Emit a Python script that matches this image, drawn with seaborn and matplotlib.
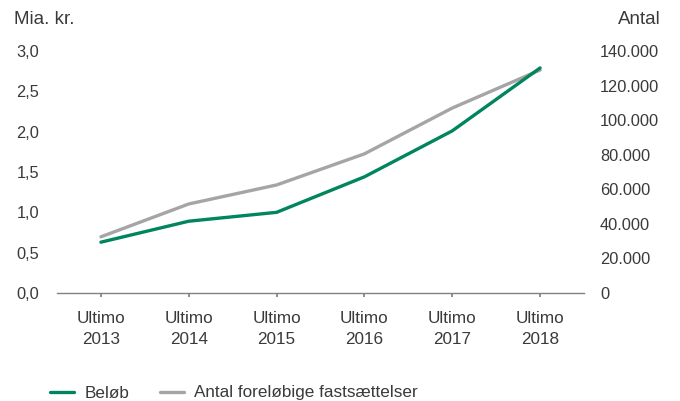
import numpy as np
import pandas as pd
import matplotlib
matplotlib.use("Agg")
import matplotlib.pyplot as plt
import seaborn as sns
from matplotlib.ticker import FuncFormatter

# data
years = ["Ultimo\n2013", "Ultimo\n2014", "Ultimo\n2015", "Ultimo\n2016", "Ultimo\n2017", "Ultimo\n2018"]
beloeb = [0.63, 0.89, 1.00, 1.44, 2.01, 2.79]          # mia. kr.
antal = [32500, 51500, 62500, 80500, 107000, 129000]  # antal fastsaettelser

green = "#00855F"
grey = "#A5A5A5"
txt = "#3A3A3A"

sns.set_theme(style="white")
plt.rcParams['font.family'] = ['Liberation Sans', 'DejaVu Sans']
plt.rcParams['text.color'] = txt

df = pd.DataFrame({"pos": np.arange(len(years)), "beloeb": beloeb, "antal": antal})

fig = plt.figure(figsize=(6.8, 4.01), dpi=100)
ax = fig.add_axes([57/680, 1-293/401, (584-57)/680, (293-51)/401])
ax2 = ax.twinx()

sns.lineplot(data=df, x="pos", y="beloeb", ax=ax, color=green, lw=2.4, label="Beløb", legend=False)
sns.lineplot(data=df, x="pos", y="antal", ax=ax2, color=grey, lw=2.4, label="Antal foreløbige fastsættelser", legend=False)

ax.set_xlim(-0.5, 5.5)
ax.set_ylim(0, 3.0)
ax2.set_ylim(0, 140000)
ax.set_yticks(np.arange(0, 3.01, 0.5))
ax2.set_yticks(np.arange(0, 140001, 20000))
ax.yaxis.set_major_formatter(FuncFormatter(lambda v, p: f"{v:.1f}".replace(".", ",")))
ax2.yaxis.set_major_formatter(FuncFormatter(lambda v, p: f"{int(v):,}".replace(",", ".")))
ax.set_xticks(range(len(years)))
ax.set_xticklabels(years, linespacing=1.5)
ax.set_xlabel("")
ax.set_ylabel("")
ax2.set_ylabel("")

for a in (ax, ax2):
    for s in a.spines.values():
        s.set_visible(False)
    a.grid(False)
ax.spines["bottom"].set_visible(True)
ax.spines["bottom"].set_color("#808080")
ax.spines["bottom"].set_linewidth(1.0)

ax.tick_params(axis="x", bottom=True, length=3, color="#808080", labelsize=12.3, labelcolor=txt, pad=10)
ax.tick_params(axis="y", left=False, length=0, labelsize=11.8, labelcolor=txt, pad=13)
ax2.tick_params(axis="y", right=False, length=0, labelsize=11.8, labelcolor=txt, pad=11.5)
ax2.set_zorder(ax.get_zorder() - 1)
ax.patch.set_visible(False)

fig.text(14/680, 1-19/401, "Mia. kr.", ha="left", va="center", fontsize=13.5, color=txt)
fig.text(661/680, 1-19/401, "Antal", ha="right", va="center", fontsize=13.5, color=txt)

h1, l1 = ax.get_legend_handles_labels()
h2, l2 = ax2.get_legend_handles_labels()
fig.legend(h1 + h2, l1 + l2, loc="center left", bbox_to_anchor=(50/680, 1-393/401),
           ncol=2, frameon=False, fontsize=12.3, handlelength=1.4, handletextpad=0.6,
           columnspacing=1.8, borderaxespad=0, borderpad=0)

fig.savefig("out.png", dpi=100)
